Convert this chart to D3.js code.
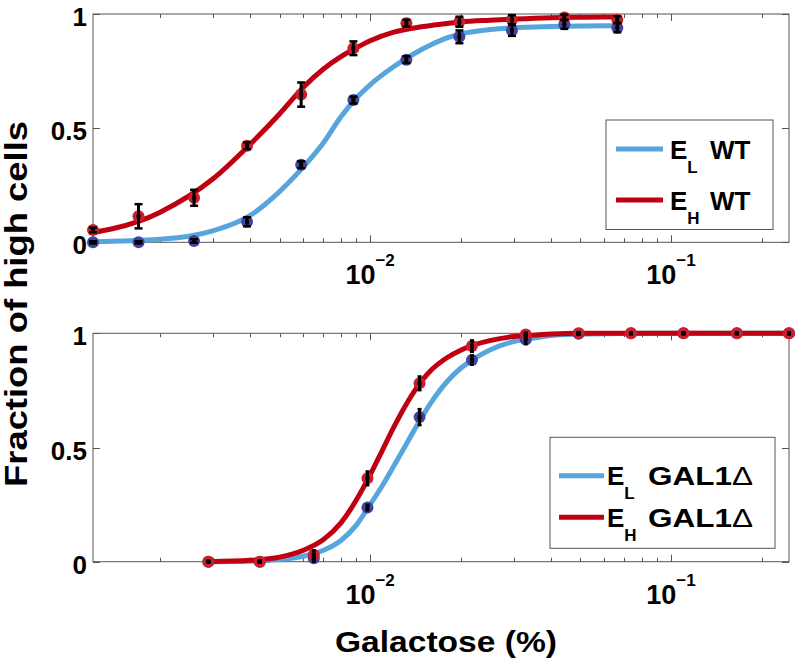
<!DOCTYPE html>
<html><head><meta charset="utf-8">
<script src="https://cdn.jsdelivr.net/npm/d3@7"></script>
<style>
body{margin:0;background:#fff;}
text{font-family:"Liberation Sans",Arial,Helvetica,sans-serif;font-weight:bold;fill:#000;}
</style>
</head><body>
<svg id="c" width="796" height="660"></svg>
<script>
// ---------- DATA ----------
// Top panel (WT): galactose concentrations (%) of measured points
const topConc   = [0.0012, 0.0017, 0.0026, 0.0039, 0.0059, 0.0088, 0.0132, 0.0198, 0.0296, 0.0442, 0.0663];
const topELMean = [0.0, 0.0, 0.006, 0.09, 0.34, 0.623, 0.80, 0.90, 0.928, 0.955, 0.94];
const topELErr  = [0.005, 0.005, 0.008, 0.02, 0.015, 0.015, 0.015, 0.028, 0.024, 0.02, 0.02];
const topEHMean = [0.054, 0.114, 0.195, 0.423, 0.647, 0.85, 0.96, 0.966, 0.975, 0.985, 0.975];
const topEHErr  = [0.01, 0.053, 0.035, 0.015, 0.053, 0.03, 0.015, 0.022, 0.02, 0.012, 0.015];
// Top panel fitted curves
const topFitConc = [0.001, 0.002, 0.003, 0.004, 0.005, 0.006, 0.007, 0.008, 0.009, 0.010, 0.012, 0.014, 0.016, 0.018, 0.020, 0.025, 0.030, 0.040, 0.050, 0.060, 0.067];
const topFitEL   = [0.0, 0.013, 0.05, 0.118, 0.222, 0.33, 0.436, 0.55, 0.632, 0.69, 0.77, 0.826, 0.866, 0.895, 0.913, 0.932, 0.94, 0.945, 0.947, 0.948, 0.948];
const topFitEH   = [0.027, 0.131, 0.277, 0.43, 0.562, 0.679, 0.759, 0.813, 0.852, 0.883, 0.921, 0.939, 0.950, 0.958, 0.965, 0.973, 0.978, 0.984, 0.986, 0.987, 0.987];

// Bottom panel (GAL1Δ)
const botConc   = [0.0029, 0.0043, 0.0065, 0.0098, 0.0146, 0.0218, 0.0329, 0.0493, 0.0736, 0.110, 0.1655, 0.2466];
const botELMean = [0.0, 0.0, 0.015, 0.237, 0.633, 0.883, 0.973, 0.998, 1.0, 1.0, 1.0, 1.0];
const botELErr  = [0.003, 0.003, 0.015, 0.012, 0.035, 0.02, 0.02, 0.005, 0.003, 0.003, 0.003, 0.003];
const botEHMean = [0.0, 0.0, 0.03, 0.365, 0.781, 0.944, 0.995, 1.0, 1.0, 1.0, 1.0, 1.0];
const botEHErr  = [0.003, 0.003, 0.02, 0.03, 0.03, 0.025, 0.008, 0.003, 0.003, 0.003, 0.003, 0.003];
const botFitConc = [0.0029, 0.004, 0.005, 0.006, 0.007, 0.008, 0.009, 0.010, 0.011, 0.012, 0.013, 0.014, 0.016, 0.018, 0.020, 0.022, 0.025, 0.030, 0.035, 0.040, 0.050, 0.070, 0.100, 0.150, 0.2466];
const botFitEL   = [0.0, 0.002, 0.01, 0.024, 0.05, 0.093, 0.16, 0.25, 0.335, 0.42, 0.5, 0.575, 0.7, 0.788, 0.847, 0.886, 0.927, 0.964, 0.979, 0.99, 0.996, 0.999, 1.0, 1.0, 1.0];
const botFitEH   = [0.0, 0.006, 0.02, 0.05, 0.097, 0.17, 0.27, 0.38, 0.49, 0.59, 0.675, 0.745, 0.84, 0.893, 0.926, 0.948, 0.968, 0.986, 0.992, 0.997, 1.0, 1.0, 1.0, 1.0, 1.0];

const yTicks = [0, 0.5, 1];
const yTickLabels = ["0", "0.5", "1"];
const xLabelTicks = [0.01, 0.1];
const xLabelExps = ["\u22122", "\u22121"];
const topLegend = [{sub: "L", txt: "WT"}, {sub: "H", txt: "WT"}];
const botLegend = [{sub: "L", txt: "GAL1", delta: "\u0394"}, {sub: "H", txt: "GAL1", delta: "\u0394"}];

// ---------- STYLE / LAYOUT ----------
const BLUE = "#56a5dc", RED = "#c00010", BLUE_PT = "#4444a0", RED_PT = "#cc1f2c";
const axisColor = "#555";
const svg = d3.select("#c");
const x = d3.scaleLog().domain([0.0012, 0.2466]).range([93, 789]);
const X0 = 93, X1 = 789;

function panel(id, yTop, yBot, fitConc, fitEL, fitEH, conc, mL, eL, mH, eH, cap) {
  const y = d3.scaleLinear().domain([0, 1]).range([yBot, yTop]);
  const g = svg.append("g");
  svg.append("clipPath").attr("id", "clip" + id).append("rect")
    .attr("x", X0).attr("y", yTop - 10).attr("width", X1 - X0).attr("height", yBot - yTop + 20);
  g.append("rect").attr("x", X0).attr("y", yTop).attr("width", X1 - X0).attr("height", yBot - yTop)
    .attr("fill", "none").attr("stroke", axisColor).attr("stroke-width", 1);
  const xt = x.ticks();
  xt.forEach(t => {
    const lg = Math.log10(t);
    const major = Math.abs(lg - Math.round(lg)) < 1e-6;
    const len = major ? 7 : 4;
    const px = Math.round(x(t)) + 0.5;
    g.append("line").attr("x1", px).attr("x2", px).attr("y1", yBot).attr("y2", yBot - len).attr("stroke", axisColor);
    g.append("line").attr("x1", px).attr("x2", px).attr("y1", yTop).attr("y2", yTop + len).attr("stroke", axisColor);
  });
  yTicks.forEach((t, i) => {
    const py = Math.round(y(t)) + 0.5;
    g.append("line").attr("x1", X0).attr("x2", X0 + 7).attr("y1", py).attr("y2", py).attr("stroke", axisColor);
    g.append("line").attr("x1", X1).attr("x2", X1 - 7).attr("y1", py).attr("y2", py).attr("stroke", axisColor);
    g.append("text").attr("x", 87).attr("y", y(t) + 3).attr("text-anchor", "end")
      .attr("dominant-baseline", "central").attr("font-size", 26).text(yTickLabels[i]);
  });
  xLabelTicks.forEach((t, i) => {
    const tx = g.append("text").attr("x", x(t)).attr("y", yBot + 42).attr("text-anchor", "middle").attr("font-size", 27);
    tx.append("tspan").text("10");
    tx.append("tspan").attr("dy", -18).attr("font-size", 17).text(xLabelExps[i]);
  });
  const line = d3.line().x(d => x(d[0])).y(d => y(d[1])).curve(d3.curveMonotoneX);
  const cg = g.append("g").attr("clip-path", "url(#clip" + id + ")");
  cg.append("path").datum(fitConc.map((c, i) => [c, fitEL[i]])).attr("d", line)
    .attr("fill", "none").attr("stroke", BLUE).attr("stroke-width", 5).attr("stroke-linejoin", "round");
  cg.append("path").datum(fitConc.map((c, i) => [c, fitEH[i]])).attr("d", line)
    .attr("fill", "none").attr("stroke", RED).attr("stroke-width", 5).attr("stroke-linejoin", "round");
  const series = [[mL, eL, BLUE_PT], [mH, eH, RED_PT]];
  series.forEach(([m, e, col]) => {
    g.append("g").selectAll("circle").data(conc).join("circle")
      .attr("cx", d => x(d)).attr("cy", (d, i) => y(m[i])).attr("r", 6).attr("fill", col);
  });
  series.forEach(([m, e]) => {
    const eg = g.append("g");
    conc.forEach((c, i) => {
      const px = x(c), y1 = y(m[i] - e[i]), y2 = y(m[i] + e[i]);
      eg.append("line").attr("x1", px).attr("x2", px).attr("y1", y1).attr("y2", y2).attr("stroke", "#000").attr("stroke-width", 3);
      if (cap > 0) {
        eg.append("line").attr("x1", px - cap / 2).attr("x2", px + cap / 2).attr("y1", y1).attr("y2", y1).attr("stroke", "#000").attr("stroke-width", 2.5);
        eg.append("line").attr("x1", px - cap / 2).attr("x2", px + cap / 2).attr("y1", y2).attr("y2", y2).attr("stroke", "#000").attr("stroke-width", 2.5);
      }
      eg.append("rect").attr("x", px - 2).attr("y", y(m[i]) - 2).attr("width", 4).attr("height", 4).attr("fill", "#000");
    });
  });
  return g;
}

panel("t", 14, 242.3, topFitConc, topFitEL, topFitEH, topConc, topELMean, topELErr, topEHMean, topEHErr, 8);
panel("b", 333.3, 561.7, botFitConc, botFitEL, botFitEH, botConc, botELMean, botELErr, botEHMean, botEHErr, 4);

// ---------- LEGENDS ----------
function legend(bx, by, bw, bh, lx0, lx1, rows, items, tx, txtX, txtLen) {
  const g = svg.append("g");
  g.append("rect").attr("x", bx).attr("y", by).attr("width", bw).attr("height", bh)
    .attr("fill", "#fff").attr("stroke", axisColor).attr("stroke-width", 1);
  const cols = [BLUE, RED];
  items.forEach((it, i) => {
    const ry = rows[i];
    g.append("line").attr("x1", lx0).attr("x2", lx1).attr("y1", ry).attr("y2", ry).attr("stroke", cols[i]).attr("stroke-width", 5);
    const t = g.append("text").attr("x", tx).attr("y", ry + 9.5).attr("font-size", 26);
    t.append("tspan").text("E");
    t.append("tspan").attr("dy", 14).attr("font-size", 17).text(it.sub);
    const t2 = g.append("text").attr("x", txtX).attr("y", ry + 9.5).attr("font-size", 26);
    if (txtLen) t2.attr("textLength", txtLen).attr("lengthAdjust", "spacingAndGlyphs");
    t2.append("tspan").text(it.txt);
    if (it.delta) t2.append("tspan").attr("font-weight", "normal").text(it.delta);
  });
}
legend(606, 120, 167, 109.5, 616, 663, [149, 200], topLegend, 670, 710, 0);
legend(550, 437.3, 225, 111, 559, 604, [475.7, 517.3], botLegend, 607, 648, 105);

// ---------- AXIS TITLES ----------
svg.append("text").attr("x", 446).attr("y", 652).attr("text-anchor", "middle").attr("font-size", 30)
  .attr("textLength", 222).attr("lengthAdjust", "spacingAndGlyphs").text("Galactose (%)");
svg.append("text").attr("transform", "translate(27,304) rotate(-90)").attr("text-anchor", "middle").attr("font-size", 31)
  .attr("textLength", 366).attr("lengthAdjust", "spacingAndGlyphs").text("Fraction of high cells");
</script>
</body></html>
